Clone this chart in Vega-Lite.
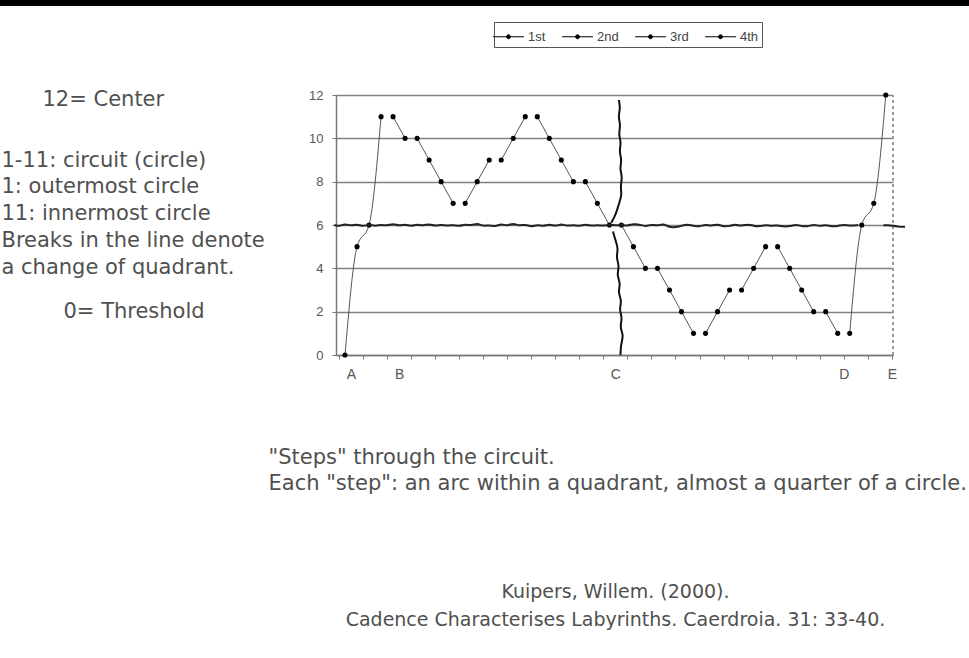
{
  "$schema": "https://vega.github.io/schema/vega-lite/v6.json",
  "width": 969,
  "height": 652,
  "autosize": {"type": "none"},
  "padding": {"left": 0, "top": 6, "right": 0, "bottom": 0},
  "background": "black",
  "config": {"view": {"fill": "white", "stroke": null}, "font": "DejaVu Sans"},
  "datasets": {
    "steps": [
      {"step": 1, "value": 0, "seg": 1, "q": "1st"},
      {"step": 2, "value": 5, "seg": 1, "q": "1st"},
      {"step": 3, "value": 6, "seg": 1, "q": "1st"},
      {"step": 4, "value": 11, "seg": 1, "q": "1st"},
      {"step": 5, "value": 11, "seg": 2, "q": "2nd"},
      {"step": 6, "value": 10, "seg": 2, "q": "2nd"},
      {"step": 7, "value": 10, "seg": 3, "q": "3rd"},
      {"step": 8, "value": 9, "seg": 3, "q": "3rd"},
      {"step": 9, "value": 8, "seg": 3, "q": "3rd"},
      {"step": 10, "value": 7, "seg": 3, "q": "3rd"},
      {"step": 11, "value": 7, "seg": 4, "q": "4th"},
      {"step": 12, "value": 8, "seg": 4, "q": "4th"},
      {"step": 13, "value": 9, "seg": 4, "q": "4th"},
      {"step": 14, "value": 9, "seg": 5, "q": "1st"},
      {"step": 15, "value": 10, "seg": 5, "q": "1st"},
      {"step": 16, "value": 11, "seg": 5, "q": "1st"},
      {"step": 17, "value": 11, "seg": 6, "q": "2nd"},
      {"step": 18, "value": 10, "seg": 6, "q": "2nd"},
      {"step": 19, "value": 9, "seg": 6, "q": "2nd"},
      {"step": 20, "value": 8, "seg": 6, "q": "2nd"},
      {"step": 21, "value": 8, "seg": 7, "q": "3rd"},
      {"step": 22, "value": 7, "seg": 7, "q": "3rd"},
      {"step": 23, "value": 6, "seg": 7, "q": "3rd"},
      {"step": 24, "value": 6, "seg": 8, "q": "4th"},
      {"step": 25, "value": 5, "seg": 8, "q": "4th"},
      {"step": 26, "value": 4, "seg": 8, "q": "4th"},
      {"step": 27, "value": 4, "seg": 9, "q": "1st"},
      {"step": 28, "value": 3, "seg": 9, "q": "1st"},
      {"step": 29, "value": 2, "seg": 9, "q": "1st"},
      {"step": 30, "value": 1, "seg": 9, "q": "1st"},
      {"step": 31, "value": 1, "seg": 10, "q": "2nd"},
      {"step": 32, "value": 2, "seg": 10, "q": "2nd"},
      {"step": 33, "value": 3, "seg": 10, "q": "2nd"},
      {"step": 34, "value": 3, "seg": 11, "q": "3rd"},
      {"step": 35, "value": 4, "seg": 11, "q": "3rd"},
      {"step": 36, "value": 5, "seg": 11, "q": "3rd"},
      {"step": 37, "value": 5, "seg": 12, "q": "4th"},
      {"step": 38, "value": 4, "seg": 12, "q": "4th"},
      {"step": 39, "value": 3, "seg": 12, "q": "4th"},
      {"step": 40, "value": 2, "seg": 12, "q": "4th"},
      {"step": 41, "value": 2, "seg": 13, "q": "1st"},
      {"step": 42, "value": 1, "seg": 13, "q": "1st"},
      {"step": 43, "value": 1, "seg": 14, "q": "2nd"},
      {"step": 44, "value": 6, "seg": 14, "q": "2nd"},
      {"step": 45, "value": 7, "seg": 14, "q": "2nd"},
      {"step": 46, "value": 12, "seg": 14, "q": "2nd"}
    ],
    "hwave": [
      {"x": 0.1, "y": 6.0, "piece": "a"}, {"x": 0.5, "y": 5.93, "piece": "a"}, {"x": 1.0, "y": 6.07, "piece": "a"}, {"x": 1.5, "y": 5.95, "piece": "a"},
      {"x": 2.0, "y": 6.05, "piece": "a"}, {"x": 2.5, "y": 5.92, "piece": "a"}, {"x": 3.0, "y": 6.04, "piece": "a"}, {"x": 3.5, "y": 5.94, "piece": "a"},
      {"x": 4.0, "y": 6.02, "piece": "a"}, {"x": 4.5, "y": 5.96, "piece": "a"}, {"x": 5.0, "y": 6.08, "piece": "a"}, {"x": 5.5, "y": 5.95, "piece": "a"},
      {"x": 6.0, "y": 6.04, "piece": "a"}, {"x": 6.5, "y": 5.93, "piece": "a"}, {"x": 7.0, "y": 6.05, "piece": "a"}, {"x": 7.5, "y": 5.95, "piece": "a"},
      {"x": 8.0, "y": 6.07, "piece": "a"}, {"x": 8.5, "y": 5.94, "piece": "a"}, {"x": 9.0, "y": 6.03, "piece": "a"}, {"x": 9.5, "y": 5.95, "piece": "a"},
      {"x": 10.0, "y": 6.02, "piece": "a"}, {"x": 10.5, "y": 5.93, "piece": "a"}, {"x": 11.0, "y": 6.05, "piece": "a"}, {"x": 11.5, "y": 5.96, "piece": "a"},
      {"x": 12.0, "y": 6.09, "piece": "a"}, {"x": 12.5, "y": 5.94, "piece": "a"}, {"x": 13.0, "y": 6.0, "piece": "a"}, {"x": 13.5, "y": 5.92, "piece": "a"},
      {"x": 14.0, "y": 6.06, "piece": "a"}, {"x": 14.5, "y": 5.95, "piece": "a"}, {"x": 15.0, "y": 6.1, "piece": "a"}, {"x": 15.5, "y": 5.95, "piece": "a"},
      {"x": 16.0, "y": 6.04, "piece": "a"}, {"x": 16.5, "y": 5.9, "piece": "a"}, {"x": 17.0, "y": 6.03, "piece": "a"}, {"x": 17.5, "y": 5.92, "piece": "a"},
      {"x": 18.0, "y": 6.05, "piece": "a"}, {"x": 18.5, "y": 5.93, "piece": "a"}, {"x": 19.0, "y": 6.06, "piece": "a"}, {"x": 19.5, "y": 5.94, "piece": "a"},
      {"x": 20.0, "y": 6.02, "piece": "a"}, {"x": 20.5, "y": 5.93, "piece": "a"}, {"x": 21.0, "y": 6.04, "piece": "a"}, {"x": 21.5, "y": 5.95, "piece": "a"},
      {"x": 22.0, "y": 6.0, "piece": "a"}, {"x": 22.5, "y": 5.96, "piece": "a"}, {"x": 23.0, "y": 6.02, "piece": "a"}, {"x": 23.5, "y": 5.98, "piece": "a"},
      {"x": 24.0, "y": 6.0, "piece": "a"}, {"x": 24.5, "y": 5.96, "piece": "a"}, {"x": 25.0, "y": 6.05, "piece": "a"}, {"x": 25.5, "y": 6.03, "piece": "a"},
      {"x": 26.0, "y": 5.92, "piece": "a"}, {"x": 26.5, "y": 6.04, "piece": "a"}, {"x": 27.0, "y": 5.95, "piece": "a"}, {"x": 27.5, "y": 6.08, "piece": "a"},
      {"x": 28.0, "y": 5.88, "piece": "a"}, {"x": 28.5, "y": 5.9, "piece": "a"}, {"x": 29.0, "y": 5.97, "piece": "a"}, {"x": 29.5, "y": 6.03, "piece": "a"},
      {"x": 30.0, "y": 5.96, "piece": "a"}, {"x": 30.5, "y": 5.92, "piece": "a"}, {"x": 31.0, "y": 6.03, "piece": "a"}, {"x": 31.5, "y": 5.95, "piece": "a"},
      {"x": 32.0, "y": 6.05, "piece": "a"}, {"x": 32.5, "y": 5.92, "piece": "a"}, {"x": 33.0, "y": 5.95, "piece": "a"}, {"x": 33.5, "y": 6.04, "piece": "a"},
      {"x": 34.0, "y": 5.94, "piece": "a"}, {"x": 34.5, "y": 6.05, "piece": "a"}, {"x": 35.0, "y": 5.96, "piece": "a"}, {"x": 35.5, "y": 5.93, "piece": "a"},
      {"x": 36.0, "y": 6.02, "piece": "a"}, {"x": 36.5, "y": 5.95, "piece": "a"}, {"x": 37.0, "y": 6.0, "piece": "a"}, {"x": 37.5, "y": 5.92, "piece": "a"},
      {"x": 38.0, "y": 5.94, "piece": "a"}, {"x": 38.5, "y": 6.03, "piece": "a"}, {"x": 39.0, "y": 5.95, "piece": "a"}, {"x": 39.5, "y": 5.92, "piece": "a"},
      {"x": 40.0, "y": 6.04, "piece": "a"}, {"x": 40.5, "y": 5.93, "piece": "a"}, {"x": 41.0, "y": 6.02, "piece": "a"}, {"x": 41.5, "y": 5.92, "piece": "a"},
      {"x": 42.0, "y": 5.95, "piece": "a"}, {"x": 42.5, "y": 6.03, "piece": "a"}, {"x": 43.0, "y": 5.96, "piece": "a"}, {"x": 43.7, "y": 6.0, "piece": "a"},
      {"x": 45.8, "y": 5.98, "piece": "b"}, {"x": 46.2, "y": 6.0, "piece": "b"}, {"x": 46.6, "y": 5.96, "piece": "b"}, {"x": 47.0, "y": 5.93, "piece": "b"}, {"x": 47.6, "y": 5.92, "piece": "b"}
    ],
    "vwave": [
      {"i": 0, "x": 23.78, "y": 11.77, "piece": "u"}, {"i": 1, "x": 23.92, "y": 11.4, "piece": "u"}, {"i": 2, "x": 23.72, "y": 11.0, "piece": "u"},
      {"i": 3, "x": 23.95, "y": 10.6, "piece": "u"}, {"i": 4, "x": 23.75, "y": 10.2, "piece": "u"}, {"i": 5, "x": 24.0, "y": 9.8, "piece": "u"},
      {"i": 6, "x": 23.8, "y": 9.4, "piece": "u"}, {"i": 7, "x": 24.05, "y": 9.0, "piece": "u"}, {"i": 8, "x": 23.85, "y": 8.6, "piece": "u"},
      {"i": 9, "x": 24.1, "y": 8.2, "piece": "u"}, {"i": 10, "x": 23.9, "y": 7.8, "piece": "u"}, {"i": 11, "x": 24.05, "y": 7.4, "piece": "u"},
      {"i": 12, "x": 23.8, "y": 7.0, "piece": "u"}, {"i": 13, "x": 23.65, "y": 6.7, "piece": "u"}, {"i": 14, "x": 23.45, "y": 6.4, "piece": "u"},
      {"i": 15, "x": 23.15, "y": 6.1, "piece": "u"},
      {"i": 16, "x": 23.3, "y": 5.7, "piece": "l"}, {"i": 17, "x": 23.5, "y": 5.3, "piece": "l"}, {"i": 18, "x": 23.75, "y": 4.9, "piece": "l"},
      {"i": 19, "x": 23.55, "y": 4.5, "piece": "l"}, {"i": 20, "x": 23.85, "y": 4.1, "piece": "l"}, {"i": 21, "x": 23.6, "y": 3.7, "piece": "l"},
      {"i": 22, "x": 23.95, "y": 3.3, "piece": "l"}, {"i": 23, "x": 23.7, "y": 2.9, "piece": "l"}, {"i": 24, "x": 24.05, "y": 2.5, "piece": "l"},
      {"i": 25, "x": 23.8, "y": 2.1, "piece": "l"}, {"i": 26, "x": 24.1, "y": 1.7, "piece": "l"}, {"i": 27, "x": 23.85, "y": 1.3, "piece": "l"},
      {"i": 28, "x": 24.2, "y": 0.9, "piece": "l"}, {"i": 29, "x": 23.95, "y": 0.5, "piece": "l"}, {"i": 30, "x": 23.92, "y": 0.0, "piece": "l"}
    ]
  },
  "title": {
    "text": ["Kuipers, Willem. (2000).", "Cadence Characterises Labyrinths. Caerdroia. 31: 33-40."],
    "orient": "bottom",
    "anchor": "middle",
    "frame": "group",
    "baseline": "alphabetic",
    "offset": 0,
    "dx": 131,
    "dy": -60,
    "lineHeight": 28,
    "font": "DejaVu Sans",
    "fontSize": 19,
    "fontWeight": "normal",
    "color": "#505050"
  },
  "resolve": {"scale": {"x": "independent", "y": "independent"}},
  "layer": [
    {
      "data": {"name": "steps"},
      "layer": [
        {
          "mark": {"type": "line", "interpolate": "monotone", "color": "#555", "strokeWidth": 1},
          "encoding": {
            "x": {
              "field": "step", "type": "quantitative",
              "scale": {"domain": [0.25, 46.6], "range": [336, 893], "nice": false, "zero": false},
              "axis": {
                "orient": "bottom", "offset": -303,
                "values": [1.5, 5.5, 23.5, 42.5, 46.5],
                "labelExpr": "abs(datum.value - 1.5) < 0.01 ? 'A' : abs(datum.value - 5.5) < 0.01 ? 'B' : abs(datum.value - 23.5) < 0.01 ? 'C' : abs(datum.value - 42.5) < 0.01 ? 'D' : 'E'",
                "labelOverlap": false, "labelFlush": false, "labelBound": false,
                "ticks": false, "tickSize": 4,
                "domainColor": "#777", "domainWidth": 1.5, "grid": false,
                "labelFont": "Liberation Sans", "labelFontSize": 14, "labelColor": "#555", "labelPadding": 12,
                "title": ["\"Steps\" through the circuit.", "Each \"step\": an arc within a quadrant, almost a quarter of a circle."],
                "titleX": 268, "titleY": 108, "titleAlign": "left", "titleAnchor": "start", "titleBaseline": "alphabetic",
                "titleFont": "DejaVu Sans", "titleFontSize": 21, "titleFontWeight": "normal", "titleColor": "#505050", "titleLineHeight": 26
              }
            },
            "y": {
              "field": "value", "type": "quantitative",
              "scale": {"domain": [0, 12], "range": [349, 89], "nice": false, "zero": false},
              "axis": {
                "orient": "left", "offset": -336,
                "values": [0, 2, 4, 6, 8, 10, 12], "format": "d",
                "grid": true, "gridColor": "#808080", "gridWidth": 1.6,
                "tickSize": 4, "tickColor": "#777", "domainColor": "#777", "domainWidth": 1.5,
                "labelFont": "Liberation Sans", "labelFontSize": 13, "labelColor": "#555", "labelPadding": 9,
                "title": ["1-11: circuit (circle)", "1: outermost circle", "11: innermost circle", "Breaks in the line denote", "a change of quadrant."],
                "titleAngle": 0, "titleX": -335, "titleY": 160, "titleAlign": "left", "titleBaseline": "alphabetic",
                "titleFont": "DejaVu Sans", "titleFontSize": 21, "titleFontWeight": "normal", "titleColor": "#505050", "titleLineHeight": 26.75
              }
            },
            "detail": {"field": "seg", "type": "nominal"}
          }
        },
        {
          "mark": {"type": "rule", "color": "#999", "strokeDash": [3, 3], "strokeWidth": 1},
          "encoding": {
            "x": {"datum": 46.6, "type": "quantitative", "scale": {"domain": [0.25, 46.6], "range": [336, 893], "nice": false, "zero": false}},
            "y": {"datum": 0, "type": "quantitative", "scale": {"domain": [0, 12], "range": [349, 89], "nice": false, "zero": false}},
            "y2": {"datum": 12}
          }
        },
        {
          "mark": {"type": "point", "filled": true, "shape": "circle", "size": 26, "opacity": 1},
          "encoding": {
            "x": {"field": "step", "type": "quantitative", "scale": {"domain": [0.25, 46.6], "range": [336, 893], "nice": false, "zero": false}},
            "y": {"field": "value", "type": "quantitative", "scale": {"domain": [0, 12], "range": [349, 89], "nice": false, "zero": false}},
            "color": {
              "field": "q", "type": "nominal",
              "scale": {"domain": ["1st", "2nd", "3rd", "4th"], "range": ["#000", "#000", "#000", "#000"]},
              "legend": {
                "orient": "none", "legendX": 494, "legendY": 16, "direction": "horizontal", "title": null,
                "symbolType": "M-1.4,0H1.4M-0.18,0A0.18,0.18,0,1,1,0.18,0A0.18,0.18,0,1,1,-0.18,0Z",
                "symbolSize": 484, "symbolStrokeWidth": 1, "symbolStrokeColor": "#000", "symbolFillColor": "#000",
                "labelFont": "Liberation Sans", "labelFontSize": 13, "labelColor": "#444", "labelOffset": 8,
                "columnPadding": 14, "strokeColor": "#555", "padding": 3, "fillColor": "white"
              }
            }
          }
        }
      ]
    },
    {
      "layer": [
        {
          "data": {"name": "hwave"},
          "mark": {"type": "line", "interpolate": "basis", "color": "#222", "strokeWidth": 2},
          "encoding": {
            "x": {
              "field": "x", "type": "quantitative",
              "scale": {"domain": [0.25, 46.6], "range": [336, 893], "nice": false, "zero": false},
              "axis": {
                "orient": "bottom", "offset": -303, "domain": false, "labels": false, "grid": false,
                "values": [0.5, 1.5, 2.5, 3.5, 4.5, 5.5, 6.5, 7.5, 8.5, 9.5, 10.5, 11.5, 12.5, 13.5, 14.5, 15.5, 16.5, 17.5, 18.5, 19.5, 20.5, 21.5, 22.5, 23.5, 24.5, 25.5, 26.5, 27.5, 28.5, 29.5, 30.5, 31.5, 32.5, 33.5, 34.5, 35.5, 36.5, 37.5, 38.5, 39.5, 40.5, 41.5, 42.5, 43.5, 44.5, 45.5, 46.5],
                "ticks": true, "tickSize": 4, "tickColor": "#777", "tickWidth": 1,
                "title": "12= Center",
                "titleX": 42, "titleY": -250, "titleAlign": "left", "titleAnchor": "start", "titleBaseline": "alphabetic", "titleAngle": 0,
                "titleFont": "DejaVu Sans", "titleFontSize": 21, "titleFontWeight": "normal", "titleColor": "#505050"
              }
            },
            "y": {
              "field": "y", "type": "quantitative",
              "scale": {"domain": [0, 12], "range": [349, 89], "nice": false, "zero": false},
              "axis": {
                "orient": "right", "offset": 0, "domain": false, "ticks": false, "labels": false, "grid": false,
                "title": "0= Threshold",
                "titleX": -906, "titleY": 311, "titleAlign": "left", "titleAnchor": "start", "titleBaseline": "alphabetic", "titleAngle": 0,
                "titleFont": "DejaVu Sans", "titleFontSize": 21, "titleFontWeight": "normal", "titleColor": "#505050"
              }
            },
            "detail": {"field": "piece", "type": "nominal"}
          }
        },
        {
          "data": {"name": "vwave"},
          "mark": {"type": "line", "interpolate": "basis", "color": "#111", "strokeWidth": 2},
          "encoding": {
            "x": {"field": "x", "type": "quantitative", "scale": {"domain": [0.25, 46.6], "range": [336, 893], "nice": false, "zero": false}},
            "y": {"field": "y", "type": "quantitative", "scale": {"domain": [0, 12], "range": [349, 89], "nice": false, "zero": false}},
            "detail": {"field": "piece", "type": "nominal"},
            "order": {"field": "i", "type": "quantitative"}
          }
        }
      ]
    }
  ]
}
